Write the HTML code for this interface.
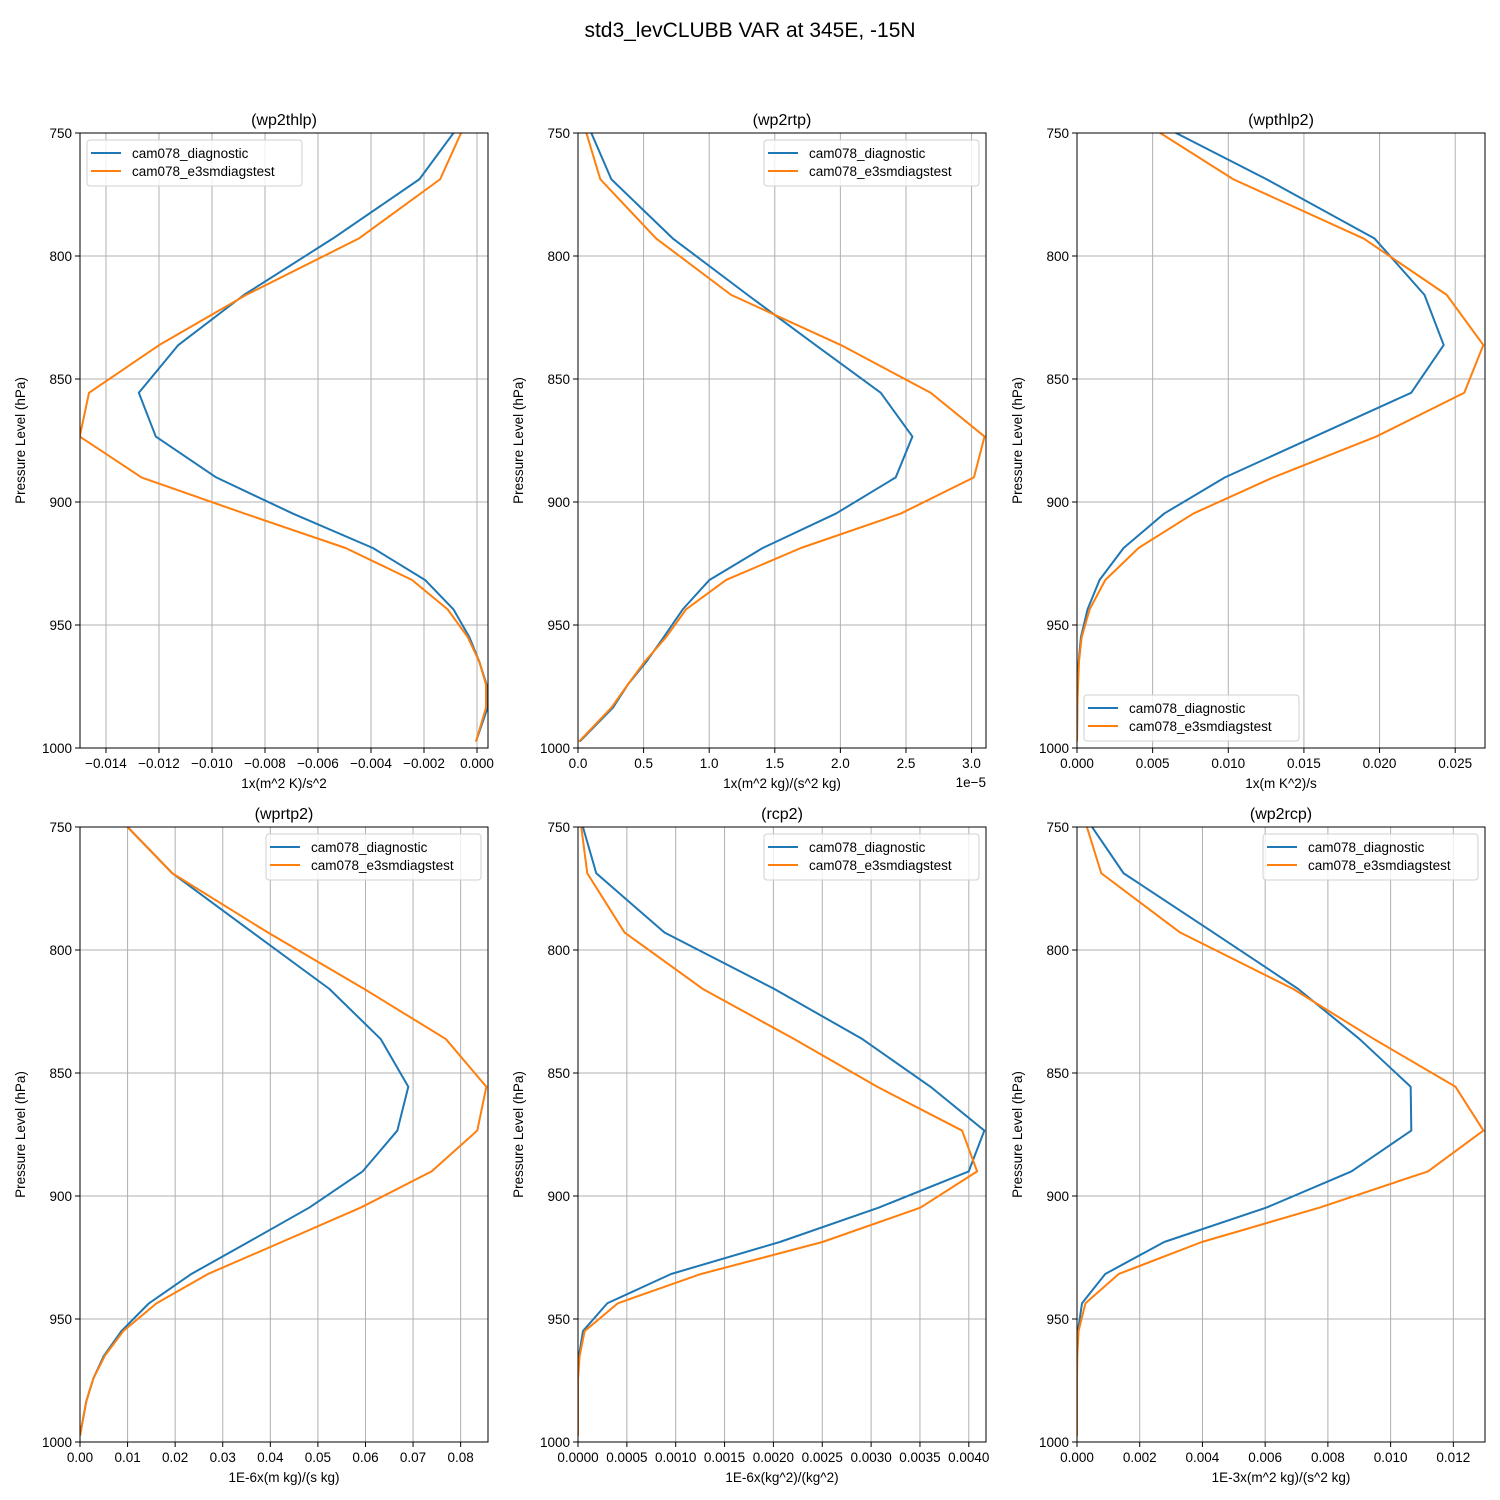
<!DOCTYPE html>
<html><head><meta charset="utf-8"><title>std3_levCLUBB VAR at 345E, -15N</title>
<style>
html,body{margin:0;padding:0;background:#fff;}
svg{display:block;font-family:"Liberation Sans","DejaVu Sans",sans-serif;}
</style></head>
<body>
<svg id="fig" width="1500" height="1500" viewBox="0 0 1500 1500" xmlns="http://www.w3.org/2000/svg">
<rect width="1500" height="1500" fill="#fff"/>
<text x="750" y="37" text-anchor="middle" font-size="21" fill="#000">std3_levCLUBB VAR at 345E, -15N</text>
</svg>
<script>
// shared pressure levels (hPa)
const levels = [744, 768.8, 792.9, 815.8, 836.2, 855.6, 873.4, 890.0, 904.7, 918.7, 931.7, 943.6, 954.9, 965.0, 974.2, 983.6, 997.4];
const seriesNames = ["cam078_diagnostic", "cam078_e3smdiagstest"];
// panel 1 wp2thlp (x1e-3)
const wp2thlpDiag = [-0.477,-2.173,-5.44,-8.79,-11.27,-12.76,-12.12,-9.84,-6.95,-3.93,-1.96,-0.89,-0.29,0.09,0.36,0.40,-0.04];
const wp2thlpTest = [-0.35,-1.39,-4.46,-8.71,-11.99,-14.64,-14.99,-12.66,-8.77,-4.96,-2.45,-1.11,-0.35,0.09,0.34,0.34,-0.04];
const wp2thlpTicks = [-0.014,-0.012,-0.010,-0.008,-0.006,-0.004,-0.002,0.000];
// panel 2 wp2rtp (x1e-5)
const wp2rtpDiag = [0.053,0.254,0.723,1.293,1.811,2.308,2.549,2.422,1.966,1.408,1.002,0.799,0.654,0.52,0.38,0.266,0.013];
const wp2rtpTest = [0.03,0.17,0.596,1.167,2.004,2.688,3.099,3.018,2.46,1.699,1.129,0.824,0.672,0.507,0.38,0.254,0.008];
const wp2rtpTicks = [0.0,0.5,1.0,1.5,2.0,2.5,3.0];
// panel 3 wpthlp2 (x1e-3)
const wpthlp2Diag = [4.64,12.53,19.67,22.97,24.24,22.09,15.71,9.78,5.76,3.08,1.49,0.70,0.26,0.11,0.04,0.02,0];
const wpthlp2Test = [3.96,10.33,18.95,24.44,26.86,25.60,19.78,12.97,7.69,4.07,1.87,0.84,0.31,0.13,0.07,0.02,0];
const wpthlp2Ticks = [0.000,0.005,0.010,0.015,0.020,0.025];
// panel 4 wprtp2 (x1e-2)
const wprtp2Diag = [0.70,1.94,3.63,5.24,6.32,6.90,6.67,5.94,4.82,3.54,2.34,1.45,0.87,0.50,0.28,0.13,0];
const wprtp2Test = [0.70,1.94,3.95,5.97,7.69,8.54,8.35,7.39,5.90,4.24,2.69,1.61,0.91,0.52,0.28,0.13,0];
const wprtp2Ticks = [0.00,0.01,0.02,0.03,0.04,0.05,0.06,0.07,0.08];
// panel 5 rcp2 (x1e-3)
const rcp2Diag = [0.007,0.187,0.885,2.008,2.910,3.608,4.159,3.999,3.080,2.066,0.953,0.300,0.051,0.010,0,0,0];
const rcp2Test = [0.014,0.095,0.477,1.276,2.212,3.063,3.931,4.085,3.506,2.502,1.259,0.408,0.068,0.017,0,0,0];
const rcp2Ticks = [0.0000,0.0005,0.0010,0.0015,0.0020,0.0025,0.0030,0.0035,0.0040];
// panel 6 wp2rcp (x1e-3)
const wp2rcpDiag = [0.159,1.485,4.35,7.05,9.01,10.64,10.66,8.75,6.04,2.78,0.90,0.16,0.03,0,0,0,0];
const wp2rcpTest = [0.170,0.774,3.29,6.89,9.47,12.07,12.96,11.19,7.74,3.98,1.33,0.27,0.05,0.01,0,0,0];
const wp2rcpTicks = [0.000,0.002,0.004,0.006,0.008,0.010,0.012];
const yTicks = [750,800,850,900,950,1000];

const NS = "http://www.w3.org/2000/svg";
const svg = document.getElementById('fig');
function mk(tag, attrs, parent){const e=document.createElementNS(NS,tag);for(const k in attrs)e.setAttribute(k,attrs[k]);(parent||svg).appendChild(e);return e;}
function fmt(v,d){return v.toFixed(d).replace('-','\u2212');}

const panels = [
 {key:'wp2thlp',x0:80,y0:133,diag:wp2thlpDiag,test:wp2thlpTest,scale:1e-3,xmin:-0.01498,xmax:0.000415,ticks:wp2thlpTicks,dec:3,xlabel:'1x(m^2 K)/s^2',legend:'ul'},
 {key:'wp2rtp',x0:578,y0:133,diag:wp2rtpDiag,test:wp2rtpTest,scale:1,xmin:0,xmax:3.11,ticks:wp2rtpTicks,dec:1,xlabel:'1x(m^2 kg)/(s^2 kg)',legend:'ur',offset:'1e\u22125'},
 {key:'wpthlp2',x0:1077,y0:133,diag:wpthlp2Diag,test:wpthlp2Test,scale:1e-3,xmin:0,xmax:0.02697,ticks:wpthlp2Ticks,dec:3,xlabel:'1x(m K^2)/s',legend:'ll'},
 {key:'wprtp2',x0:80,y0:827,diag:wprtp2Diag,test:wprtp2Test,scale:1e-2,xmin:0,xmax:0.08575,ticks:wprtp2Ticks,dec:2,xlabel:'1E-6x(m kg)/(s kg)',legend:'ur'},
 {key:'rcp2',x0:578,y0:827,diag:rcp2Diag,test:rcp2Test,scale:1e-3,xmin:0,xmax:0.004176,ticks:rcp2Ticks,dec:4,xlabel:'1E-6x(kg^2)/(kg^2)',legend:'ur'},
 {key:'wp2rcp',x0:1077,y0:827,diag:wp2rcpDiag,test:wp2rcpTest,scale:1e-3,xmin:0,xmax:0.01301,ticks:wp2rcpTicks,dec:3,xlabel:'1E-3x(m^2 kg)/(s^2 kg)',legend:'ur'}
];
const W=408, H=615, colors=['#1f77b4','#ff7f0e'];

panels.forEach((p,i)=>{
 const g=mk('g',{});
 
 
 const xs=v=>p.x0+(v-p.xmin)/(p.xmax-p.xmin)*W;
 const ys=v=>p.y0+(v-750)/250*H;
 const cid='clip'+i;
 const cp=mk('clipPath',{id:cid},g); mk('rect',{x:p.x0,y:p.y0,width:W,height:H},cp);
 // grid + ticks
 p.ticks.forEach(t=>{
  const x=xs(t);
  const gl=mk('line',{x1:x,x2:x,y1:p.y0,y2:p.y0+H,stroke:'#b0b0b0','stroke-width':1},g);
  
  
  mk('line',{x1:x,x2:x,y1:p.y0+H,y2:p.y0+H+5,stroke:'#000','stroke-width':1},g);
  const tl=mk('text',{x:x,y:p.y0+H+20,'text-anchor':'middle','font-size':13.5},g);
  tl.textContent=fmt(t,p.dec);
  
  
 });
 yTicks.forEach(t=>{
  const y=ys(t);
  const gl=mk('line',{x1:p.x0,x2:p.x0+W,y1:y,y2:y,stroke:'#b0b0b0','stroke-width':1},g);
  
  
  mk('line',{x1:p.x0-5,x2:p.x0,y1:y,y2:y,stroke:'#000','stroke-width':1},g);
  const tl=mk('text',{x:p.x0-8,y:y+5,'text-anchor':'end','font-size':13.5},g);
  tl.textContent=String(t);
  
  
 });
 // series
 [p.diag,p.test].forEach((arr,si)=>{
  const pts=arr.map((v,j)=>xs(v*p.scale).toFixed(2)+','+ys(levels[j]).toFixed(2)).join(' ');
  const pl=mk('polyline',{points:pts,fill:'none',stroke:colors[si],'stroke-width':2,'clip-path':'url(#'+cid+')','stroke-linejoin':'round'},g);
  
  
 });
 const fr=mk('rect',{x:p.x0,y:p.y0,width:W,height:H,fill:'none',stroke:'#000','stroke-width':1},g);
 
 
 const ti=mk('text',{x:p.x0+W/2,y:p.y0-8,'text-anchor':'middle','font-size':16},g);
 ti.textContent='('+p.key+')';
 
 
 const xl=mk('text',{x:p.x0+W/2,y:p.y0+H+40,'text-anchor':'middle','font-size':13.5},g);
 xl.textContent=p.xlabel;
 
 
 const yl=mk('text',{x:0,y:0,'text-anchor':'middle','font-size':13.5,transform:'translate('+(p.x0-55)+','+(p.y0+H/2)+') rotate(-90)'},g);
 yl.textContent='Pressure Level (hPa)';
 
 
 if(p.offset){
  const ot=mk('text',{x:p.x0+W,y:p.y0+H+39,'text-anchor':'end','font-size':13.5},g);
  ot.textContent=p.offset;
  
  
 }
 // legend
 const lw=215, lh=46;
 let lx, ly;
 if(p.legend==='ul'){lx=p.x0+7;ly=p.y0+7;}
 else if(p.legend==='ur'){lx=p.x0+W-7-lw;ly=p.y0+7;}
 else {lx=p.x0+7;ly=p.y0+H-7-lh;}
 const lg=mk('g',{},g);
 
 
 mk('rect',{x:lx,y:ly,width:lw,height:lh,rx:3,fill:'#fff','fill-opacity':0.8,stroke:'#d0d0d0','stroke-width':1},lg);
 seriesNames.forEach((n,si)=>{
  const yy=ly+13+si*18;
  const sw=mk('line',{x1:lx+4,x2:lx+34,y1:yy,y2:yy,stroke:colors[si],'stroke-width':2},lg);
  
  
  const lt=mk('text',{x:lx+45,y:yy+5,'font-size':13.5},lg);
  lt.textContent=n;
  
  
 });
});
</script>
</body></html>
